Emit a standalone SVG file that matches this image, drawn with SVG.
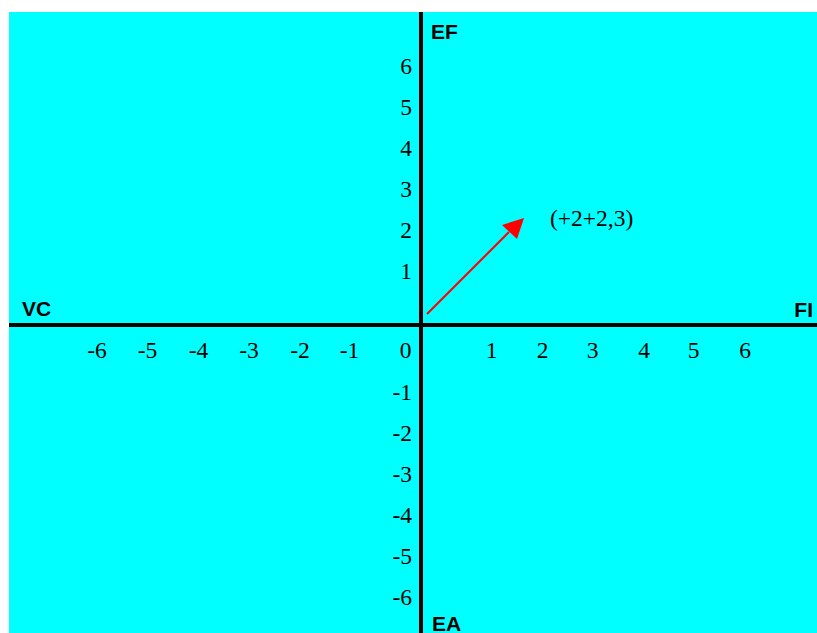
<svg xmlns="http://www.w3.org/2000/svg" width="817" height="633" viewBox="0 0 817 633">
<defs>
<style>
.ax{stroke:#000;stroke-width:4;fill:none}
.lbl{font-family:"Liberation Sans",Arial,sans-serif;font-weight:bold;font-size:21px;fill:#000}
.num{font-family:"Liberation Serif","Times New Roman",serif;font-size:23.5px;fill:#000}
.v{text-anchor:end}
.h{text-anchor:middle}
</style>
</defs>
<rect x="0" y="0" width="817" height="633" fill="#fff"/>
<rect x="9" y="12" width="808" height="621" fill="#00ffff"/>
<g id="connectors">
<line class="ax" x1="421" y1="12" x2="421" y2="633"/>
<line class="ax" x1="9" y1="325" x2="817" y2="325"/>
<line x1="427" y1="314" x2="509" y2="232" stroke="#ff0000" stroke-width="2"/>
<path d="M524,218 L502,225 L517,239 Z" fill="#ff0000"/>
</g>
<g id="axis-labels">
<text class="lbl" x="431" y="39">EF</text>
<text class="lbl" x="432" y="631">EA</text>
<text class="lbl" x="22" y="316">VC</text>
<text class="lbl" x="813" y="317" text-anchor="end">FI</text>
</g>
<g id="vertical-ticks" class="num">
<text class="v" x="412" y="74">6</text>
<text class="v" x="412" y="115">5</text>
<text class="v" x="412" y="156">4</text>
<text class="v" x="412" y="197">3</text>
<text class="v" x="412" y="238">2</text>
<text class="v" x="412" y="279">1</text>
<text class="v" x="412" y="400">-1</text>
<text class="v" x="412" y="441">-2</text>
<text class="v" x="412" y="482">-3</text>
<text class="v" x="412" y="523">-4</text>
<text class="v" x="412" y="564">-5</text>
<text class="v" x="412" y="605">-6</text>
</g>
<g id="horizontal-ticks" class="num">
<text class="h" x="97" y="358">-6</text>
<text class="h" x="147.5" y="358">-5</text>
<text class="h" x="198.5" y="358">-4</text>
<text class="h" x="249" y="358">-3</text>
<text class="h" x="300" y="358">-2</text>
<text class="h" x="349.5" y="358">-1</text>
<text class="h" x="405.5" y="358">0</text>
<text class="h" x="491.5" y="358">1</text>
<text class="h" x="542.5" y="358">2</text>
<text class="h" x="592.5" y="358">3</text>
<text class="h" x="644" y="358">4</text>
<text class="h" x="693.5" y="358">5</text>
<text class="h" x="745" y="358">6</text>
</g>
<g id="point-label">
<text class="num" x="550" y="226">(+2+2,3)</text>
</g>
</svg>
